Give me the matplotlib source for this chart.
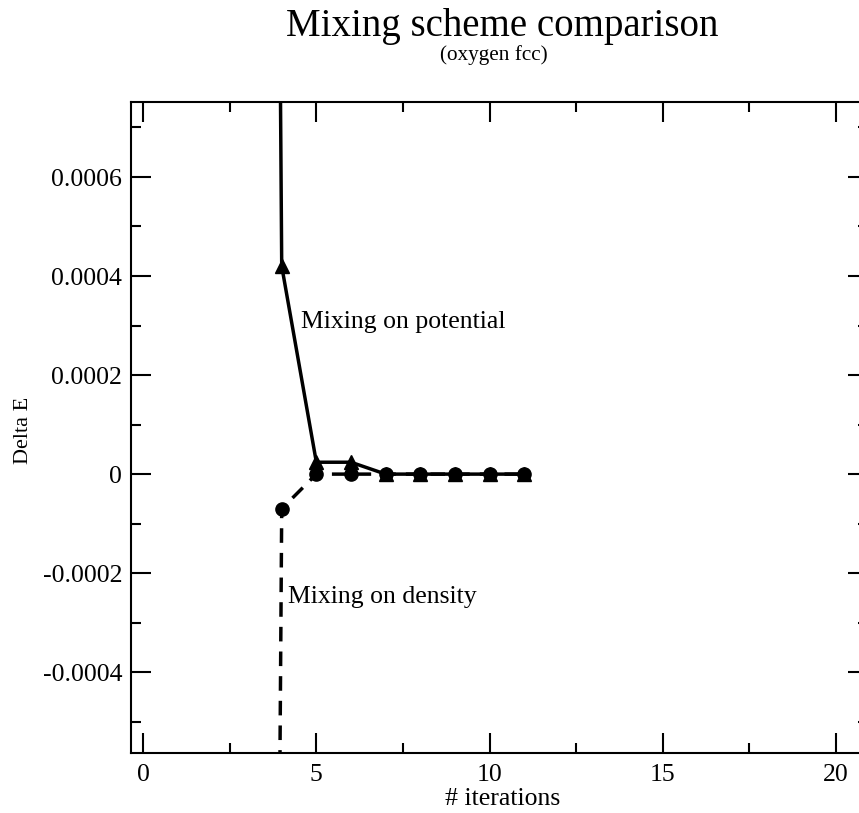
import numpy as np
import matplotlib
matplotlib.use("Agg")
import matplotlib.pyplot as plt
from matplotlib.ticker import MultipleLocator

# data (iteration 3 is off the chart on both curves)
iter_potential = [3, 4, 5, 6, 7, 8, 9, 10, 11]
dE_potential = [0.01, 0.00042, 0.000024, 0.000024, 0.0, 0.0, 0.0, 0.0, 0.0]

iter_density = [3, 4, 5, 6, 7, 8, 9, 10, 11]
dE_density = [-0.01, -0.00007, 0.0, 0.0, 0.0, 0.0, 0.0, 0.0, 0.0]

x_ticks = [0, 5, 10, 15, 20]
y_ticks = [-0.0004, -0.0002, 0, 0.0002, 0.0004, 0.0006]
y_ticklabels = ["-0.0004", "-0.0002", "0", "0.0002", "0.0004", "0.0006"]

plt.rcParams['font.family'] = ['Liberation Serif', 'DejaVu Serif']

W, H = 859, 813
# small extra so the pixel size does not round down
fig = plt.figure(figsize=(W / 100 + 0.004, H / 100 + 0.004), dpi=100)

# frame in pixels: left 131, right ~868 (cut off), top 102, bottom 753
ax = fig.add_axes([131 / W, 1 - 753 / H, (868 - 131) / W, (753 - 102) / H])
ax.patch.set_visible(False)

ax.plot(iter_potential, dE_potential, color='black', lw=2.5,
        marker='^', markersize=9.5)
ax.plot(iter_density, dE_density, color='black', lw=2.5, dashes=(4.2, 2.9),
        marker='o', markersize=9.5)

ax.set_xlim(-0.35, 20.94)
ax.set_ylim(-0.000563, 0.000752)

ax.set_xticks(x_ticks)
ax.set_yticks(y_ticks)
ax.set_yticklabels(y_ticklabels)
ax.xaxis.set_minor_locator(MultipleLocator(2.5))
ax.yaxis.set_minor_locator(MultipleLocator(0.0001))

ax.tick_params(which='both', direction='in', top=True, right=True, width=1.5,
               labelsize=18.5, colors='black')
ax.tick_params(which='major', length=14.5)
ax.tick_params(which='minor', length=7.2)
ax.tick_params(axis='x', pad=8)
ax.tick_params(axis='y', pad=6.5)

for s in ax.spines.values():
    s.set_linewidth(1.5)
# right edge of the frame falls outside the picture
ax.spines['right'].set_visible(False)

ax.text(4.56, 0.000308, "Mixing on potential", fontsize=18.5, va='center')
ax.text(4.19, -0.000247, "Mixing on density", fontsize=18.5, va='center')

# titles and axis labels placed in pixels like the original
fig.text(502 / W, 1 - 26 / H, "Mixing scheme comparison", fontsize=28,
         ha='center', va='center')
fig.text(494 / W, 1 - 55 / H, "(oxygen fcc)", fontsize=15.3,
         ha='center', va='center')
fig.text(502 / W, 1 - 799 / H, "# iterations", fontsize=18.5,
         ha='center', va='center')
fig.text(33 / W, 1 - 430 / H, "Delta E", fontsize=16, rotation=90,
         ha='right', va='center')

fig.savefig("out.png", dpi=100)
